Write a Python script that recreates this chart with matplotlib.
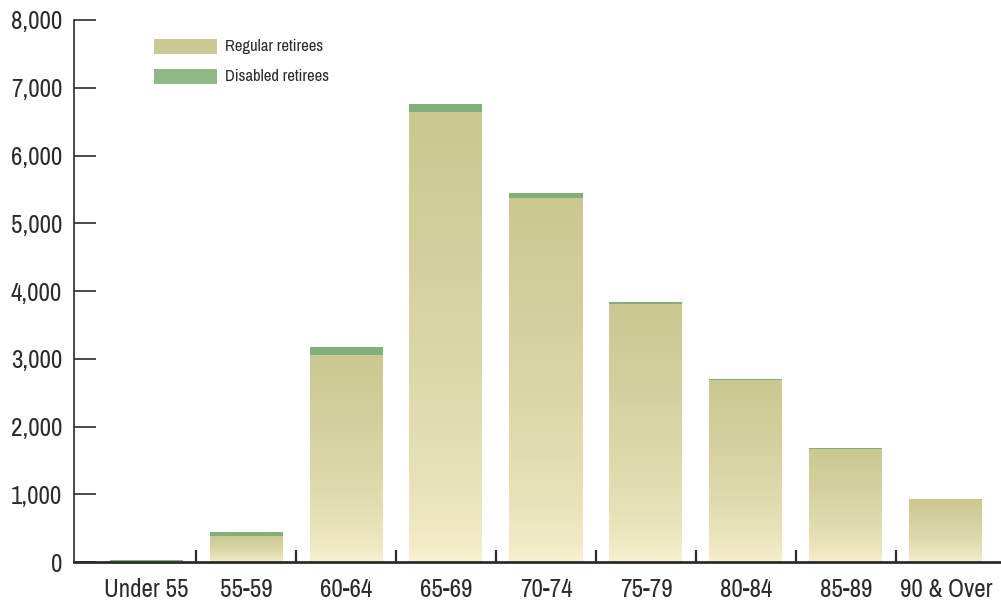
import numpy as np
import matplotlib
matplotlib.use("Agg")
import matplotlib.pyplot as plt
from matplotlib import font_manager
from matplotlib.colors import LinearSegmentedColormap
from matplotlib.patches import Rectangle


# ── Data ──────────────────────────────────────────────────────────────────────
age_groups = ["Under 55", "55-59", "60-64", "65-69", "70-74",
              "75-79", "80-84", "85-89", "90 & Over"]
regular = [10, 390, 3060, 6640, 5375, 3810, 2690, 1670, 930]
disabled = [25, 55, 115, 120, 70, 30, 12, 8, 0]

# ── Colours / style ──────────────────────────────────────────────────────────
OLIVE      = "#CBC891"
CREAM      = "#FBF3D3"
GREEN      = "#82B07A"
LEG_OLIVE  = "#CCC994"
LEG_GREEN  = "#8FB887"
INK        = "#2b2b2b"
W, H       = 1001, 602


def _narrow_font():
    # prefer any condensed / narrow face that happens to be installed
    names = sorted({f.name for f in font_manager.fontManager.ttflist})
    for key in ("Narrow", "Condensed"):
        for n in names:
            if key in n:
                return n
    for f in font_manager.fontManager.ttflist:
        if f.stretch in ("condensed", "semi-condensed") and "DejaVu" in f.name:
            return f.name
    return "Liberation Sans"


FONT = _narrow_font()
plt.rcParams["font.family"] = [FONT, "DejaVu Sans"]
if FONT == "DejaVu Sans":
    plt.rcParams["font.stretch"] = "condensed"

fig = plt.figure(figsize=(W / 100, H / 100), dpi=100)
ax = fig.add_axes([74 / W, 40 / H, 1 - 74 / W, 542 / H])

x = np.arange(len(age_groups))
bar_w = 0.73

# regular retirees: bars filled with a vertical gradient (cream at bottom)
cmap = LinearSegmentedColormap.from_list("khaki", [CREAM, OLIVE])
grad = np.linspace(0, 1, 256) ** 0.55
grad = grad.reshape(-1, 1)

bars = ax.bar(x, regular, width=bar_w, color="none", edgecolor="none", zorder=2)
for b in bars:
    x0, h = b.get_x(), b.get_height()
    if h <= 0:
        continue
    im = ax.imshow(grad, cmap=cmap, origin="lower", aspect="auto",
                   extent=[x0, x0 + bar_w, 0, h], zorder=2, interpolation="bilinear")
    im.set_clip_path(b)

ax.bar(x, disabled, width=bar_w, bottom=regular, color=GREEN,
       edgecolor="none", zorder=2)

ax.set_xlim(-0.72, 8.55)
ax.set_ylim(0, 8000)

# ── Axes ──────────────────────────────────────────────────────────────────────
for s in ("top", "right"):
    ax.spines[s].set_visible(False)
ax.spines["left"].set_linewidth(1.2)
ax.spines["left"].set_color(INK)
ax.spines["bottom"].set_linewidth(2.0)
ax.spines["bottom"].set_color(INK)
ax.spines["bottom"].set_zorder(3)

yt = np.arange(0, 8001, 1000)
ax.set_yticks(yt)
ax.set_yticklabels([f"{v:,}" for v in yt])
ax.tick_params(axis="y", direction="in", length=16, width=1.2, color=INK,
               pad=8.5, labelsize=18, labelcolor=INK)

# separators between groups, labels centred under each bar
ax.set_xticks(x[:-1] + 0.5)
ax.set_xticklabels([])
ax.tick_params(axis="x", which="major", direction="in", length=8.5,
               width=1.6, color=INK)
ax.set_xticks(x, minor=True)
ax.set_xticklabels(age_groups, minor=True)
ax.tick_params(axis="x", which="minor", length=0, pad=11.5, labelsize=18,
               labelcolor=INK)

# ── Legend ────────────────────────────────────────────────────────────────────
for y_px, col, txt in [(39, LEG_OLIVE, "Regular retirees"),
                       (69, LEG_GREEN, "Disabled retirees")]:
    fig.add_artist(Rectangle((154 / W, 1 - (y_px + 15) / H), 63 / W, 15 / H,
                             transform=fig.transFigure, color=col, lw=0))
    fig.text(225 / W, 1 - (y_px + 7.5) / H, txt, ha="left", va="center",
             fontsize=12, color=INK)

fig.savefig("out.png", dpi=100, facecolor="white")
